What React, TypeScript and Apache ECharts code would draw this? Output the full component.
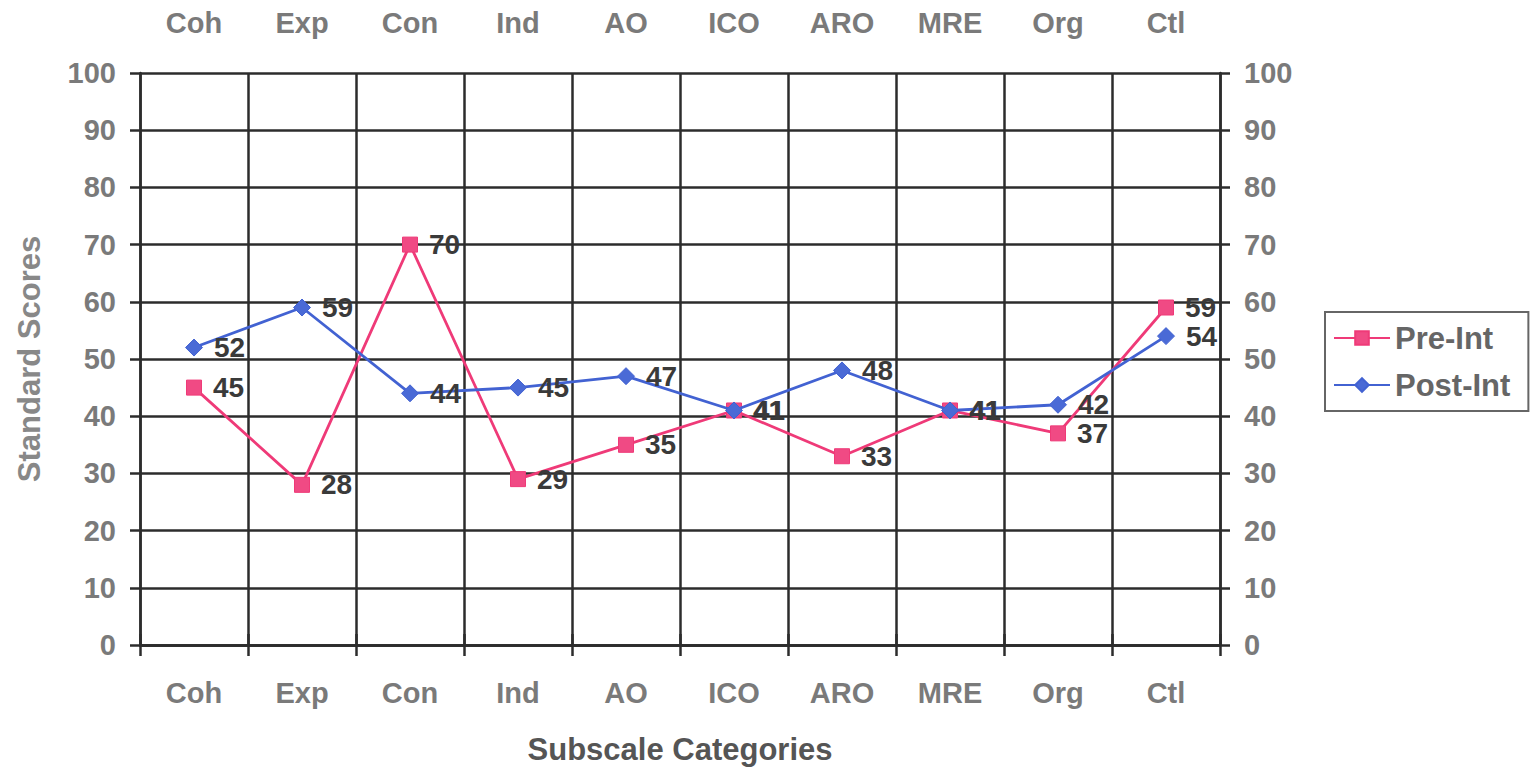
import React, { useEffect, useRef } from "react";
import * as echarts from "echarts";

const categories = ["Coh", "Exp", "Con", "Ind", "AO", "ICO", "ARO", "MRE", "Org", "Ctl"];
const preInt = [45, 28, 70, 29, 35, 41, 33, 41, 37, 59];
const postInt = [52, 59, 44, 45, 47, 41, 48, 41, 42, 54];
const seriesNames = ["Pre-Int", "Post-Int"];
const xAxisTitle = "Subscale Categories";
const yAxisTitle = "Standard Scores";

const FONT = "'Liberation Sans', Arial, sans-serif";
const PINK = "#ef3a78";
const BLUE = "#4262d2";
const GRID = "#2c2c2c";
const LABEL_GRAY = "#7a7a7a";

export default function App() {
  const ref = useRef<HTMLDivElement>(null);
  useEffect(() => {
    if (!ref.current) return;
    const chart = echarts.init(ref.current, null, { renderer: "svg" });
    const catAxisBase = {
      type: "category",
      data: categories,
      boundaryGap: true,
      axisLine: { show: true, lineStyle: { color: GRID, width: 2.5 } },
      axisTick: { show: true, length: 11, lineStyle: { color: GRID, width: 2.5 } },
      axisLabel: {
        color: LABEL_GRAY,
        fontFamily: FONT,
        fontWeight: "bold",
        fontSize: 29,
      },
    };
    const valAxisBase = {
      type: "value",
      min: 0,
      max: 100,
      interval: 10,
      axisLine: { show: true, lineStyle: { color: GRID, width: 2.5 } },
      axisTick: { show: true, length: 10, lineStyle: { color: GRID, width: 2.5 } },
      axisLabel: {
        color: LABEL_GRAY,
        fontFamily: FONT,
        fontWeight: "bold",
        fontSize: 29,
        margin: 24,
      },
    };
    const labelStyle = {
      show: true,
      position: "right",
      distance: 11,
      color: "#3a3a3a",
      fontFamily: FONT,
      fontWeight: "bold",
      fontSize: 28,
      lineHeight: 22,
    };
    chart.setOption({
      animation: false,
      backgroundColor: "#ffffff",
      grid: { left: 140, right: 314, top: 73, bottom: 124, containLabel: false },
      xAxis: [
        {
          ...catAxisBase,
          position: "bottom",
          axisLabel: { ...catAxisBase.axisLabel, margin: 33 },
          splitLine: { show: true, lineStyle: { color: GRID, width: 2.5 } },
          name: xAxisTitle,
          nameLocation: "middle",
          nameGap: 89,
          nameTextStyle: {
            color: "#555555",
            fontFamily: FONT,
            fontWeight: "bold",
            fontSize: 31,
          },
        },
        {
          ...catAxisBase,
          position: "top",
          axisLabel: { ...catAxisBase.axisLabel, margin: 36 },
          splitLine: { show: false },
        },
      ],
      yAxis: [
        {
          ...valAxisBase,
          position: "left",
          splitLine: { show: true, lineStyle: { color: GRID, width: 2.5 } },
          name: yAxisTitle,
          nameLocation: "middle",
          nameRotate: 90,
          nameGap: 95,
          nameTextStyle: {
            color: "#888888",
            fontFamily: FONT,
            fontWeight: "bold",
            fontSize: 31,
          },
        },
        {
          ...valAxisBase,
          position: "right",
          splitLine: { show: false },
        },
      ],
      legend: {
        left: 1325,
        top: 312,
        orient: "vertical",
        data: seriesNames,
        backgroundColor: "#ffffff",
        borderColor: "#666666",
        borderWidth: 2,
        borderRadius: 0,
        padding: [10, 18, 10, 8],
        itemWidth: 56,
        itemHeight: 17,
        itemGap: 15,
        textStyle: {
          color: "#666666",
          fontFamily: FONT,
          fontWeight: "bold",
          fontSize: 31,
          lineHeight: 32,
        },
      },
      series: [
        {
          name: seriesNames[0],
          type: "line",
          data: preInt,
          symbol: "rect",
          symbolSize: 15,
          lineStyle: { color: PINK, width: 2.8 },
          itemStyle: { color: "#f04a84", borderColor: PINK, borderWidth: 1 },
          label: labelStyle,
          labelLayout: { hideOverlap: false },
          z: 3,
        },
        {
          name: seriesNames[1],
          type: "line",
          data: postInt,
          symbol: "diamond",
          symbolSize: 17,
          lineStyle: { color: BLUE, width: 2.8 },
          itemStyle: { color: "#4a6ad6", borderColor: BLUE, borderWidth: 1 },
          label: labelStyle,
          labelLayout: { hideOverlap: false },
          z: 4,
        },
      ],
    });
    return () => chart.dispose();
  }, []);
  return (
    <div
      ref={ref}
      style={{ position: "fixed", left: 0, top: 0, width: 1534, height: 770 }}
    />
  );
}
